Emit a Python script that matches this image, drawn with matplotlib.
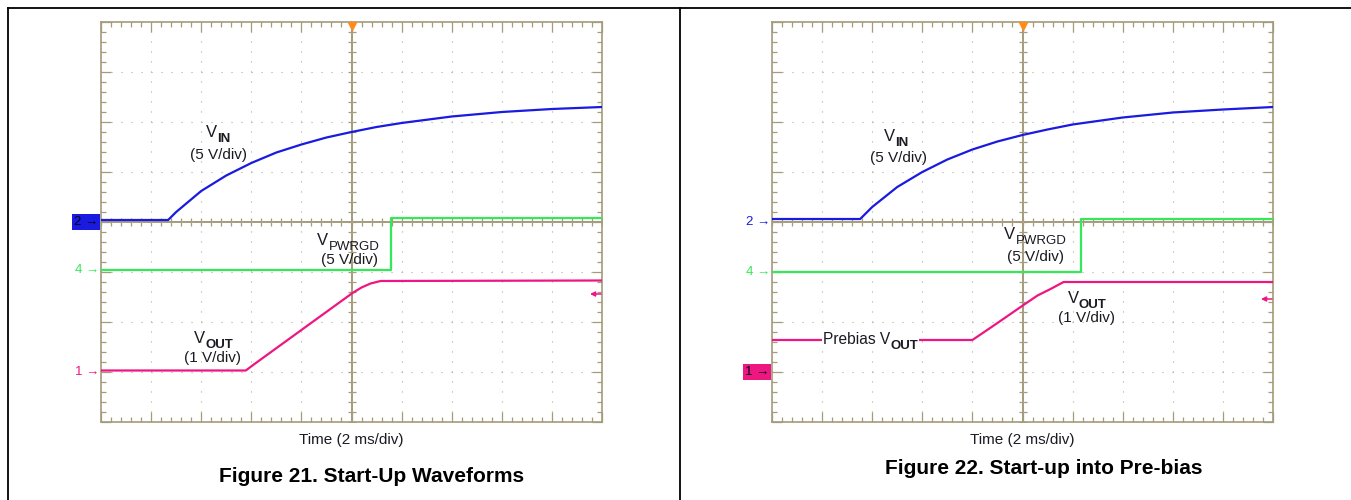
import numpy as np
import matplotlib
matplotlib.use('Agg')
import matplotlib.pyplot as plt
from matplotlib.lines import Line2D

plt.rcParams['font.family'] = ['Liberation Sans', 'DejaVu Sans']

# datos (divisiones, 0 en el centro)
# Figura 21
vin_x_21 = [0, 1.34, 1.5, 2.0, 2.5, 3.0, 3.5, 4.0, 4.5, 5.0, 5.5, 6.0, 7.0, 8.0, 9.0, 10.0]
vin_y_21 = [0.04, 0.04, 0.2, 0.62, 0.93, 1.18, 1.39, 1.55, 1.69, 1.80, 1.90, 1.98, 2.11, 2.20, 2.26, 2.30]
pg_x_21 = [0, 5.78, 5.78, 10.0]
pg_y_21 = [-0.96, -0.96, 0.08, 0.08]
vout_x_21 = [0, 2.89, 3.05, 4.0, 5.02, 5.2, 5.38, 5.58, 10.0]
vout_y_21 = [-2.97, -2.97, -2.85, -2.16, -1.42, -1.31, -1.23, -1.18, -1.17]

# Figura 22
vin_x_22 = [0, 1.76, 2.0, 2.5, 3.0, 3.5, 4.0, 4.5, 5.0, 5.5, 6.0, 7.0, 8.0, 9.0, 10.0]
vin_y_22 = [0.06, 0.06, 0.3, 0.7, 1.0, 1.25, 1.45, 1.61, 1.74, 1.85, 1.95, 2.09, 2.19, 2.25, 2.30]
pg_x_22 = [0, 6.16, 6.16, 10.0]
pg_y_22 = [-1.0, -1.0, 0.06, 0.06]
vout_x_22 = [0, 4.0, 4.5, 5.02, 5.3, 5.56, 5.82, 10.0]
vout_y_22 = [-2.36, -2.36, -2.02, -1.66, -1.47, -1.34, -1.2, -1.2]

BLUE = '#1a1ae0'
GREEN = '#35e85a'
PINK = '#ee1681'
GRID = '#a39b7a'
TXT = '#1a1a22'

fig = plt.figure(figsize=(13.51, 5), dpi=100)

# marco de la pagina
fig.add_artist(Line2D([8/1351, 1], [0.984, 0.984], color='k', lw=1.3))
fig.add_artist(Line2D([8/1351, 8/1351], [0, 0.984], color='k', lw=1.3))
fig.add_artist(Line2D([680/1351, 680/1351], [0, 0.984], color='k', lw=1.3))


def scope(left_px, ch_levels, boxed):
    ax = fig.add_axes([left_px/1351, 78/500, 501/1351, 400/500])
    ax.set_xlim(0, 10)
    ax.set_ylim(-4, 4)
    ax.set_xticks(np.arange(0, 11, 1))
    ax.set_yticks(np.arange(-4, 5, 1))
    ax.set_xticks(np.arange(0, 10.01, 0.2), minor=True)
    ax.set_yticks(np.arange(-4, 4.01, 0.2), minor=True)
    ax.tick_params(which='both', direction='in', top=True, right=True,
                   labelbottom=False, labelleft=False, color=GRID, width=0.9)
    ax.tick_params(which='major', length=7)
    ax.tick_params(which='minor', length=3.5)
    for s in ax.spines.values():
        s.set_color(GRID)
        s.set_linewidth(1.2)
    ax.grid(which='major', color='#b3ab92', lw=0.8, ls=(0, (1, 8)))
    ax.axhline(0, color=GRID, lw=1.4, zorder=1)
    ax.axvline(5, color=GRID, lw=1.4, zorder=1)
    mx = np.arange(0, 10.01, 0.2)
    my = np.arange(-4, 4.01, 0.2)
    ax.plot(mx, np.zeros_like(mx), ls='', marker='|', ms=5.5, mew=0.9, color=GRID, zorder=1)
    ax.plot(np.full_like(my, 5.0), my, ls='', marker='_', ms=5.5, mew=0.9, color=GRID, zorder=1)
    # disparo
    ax.plot([5], [3.93], marker='v', ms=6, color='#ff8c1a', clip_on=False, zorder=5)
    # marcadores de canal
    for ch, lvl, col in zip(['2', '4', '1'], ch_levels, [BLUE, GREEN, PINK]):
        if ch == boxed:
            ax.annotate(ch + ' \u2192', xy=(0, lvl), xycoords=('axes fraction', 'data'),
                        xytext=(-2, 0), textcoords='offset points', ha='right', va='center',
                        fontsize=9.5, color='#05051a',
                        bbox=dict(boxstyle='square,pad=0.15', fc=col, ec='none'))
        else:
            ax.annotate(ch + ' \u2192', xy=(0, lvl), xycoords=('axes fraction', 'data'),
                        xytext=(-1, 0), textcoords='offset points', ha='right', va='center',
                        fontsize=9.5, color=col)
    ax.text(5.0, -4.36, 'Time (2 ms/div)', ha='center', va='center', fontsize=11, color=TXT)
    return ax


def vlabel(ax, x, y, main, sub, bold=True, bg=False, size=12):
    kw = {}
    if bg:
        kw = dict(bbox=dict(boxstyle='square,pad=0.08', fc='white', ec='none'), zorder=4)
    ax.text(x, y, main, ha='right', va='baseline', fontsize=size, color=TXT, **kw)
    ax.text(x, y - 0.1, sub, ha='left', va='baseline', fontsize=9.5, color=TXT,
            fontweight='bold' if bold else 'normal', **kw)


def ref_arrow(ax, lvl):
    ax.annotate('', xy=(9.76, lvl), xytext=(9.98, lvl),
                arrowprops=dict(arrowstyle='-|>', color=PINK, lw=1.1, mutation_scale=7,
                                shrinkA=0, shrinkB=0))


# Figura 21
ax1 = scope(101, [0, -0.96, -3], '2')
ax1.plot(vin_x_21, vin_y_21, color=BLUE, lw=1.6, zorder=3)
ax1.plot(pg_x_21, pg_y_21, color=GREEN, lw=1.6, zorder=3)
ax1.plot(vout_x_21, vout_y_21, color=PINK, lw=1.6, zorder=3)
ref_arrow(ax1, -1.44)
vlabel(ax1, 2.32, 1.70, 'V', 'IN')
ax1.text(2.34, 1.34, '(5 V/div)', ha='center', va='center', fontsize=11, color=TXT)
vlabel(ax1, 4.54, -0.46, 'V', 'PWRGD', bold=False)
ax1.text(4.96, -0.76, '(5 V/div)', ha='center', va='center', fontsize=11, color=TXT)
vlabel(ax1, 2.08, -2.42, 'V', 'OUT')
ax1.text(2.22, -2.72, '(1 V/div)', ha='center', va='center', fontsize=11, color=TXT)
fig.text(372/1351, 1 - 476/500, 'Figure 21. Start-Up Waveforms', ha='center', va='center',
         fontsize=15, fontweight='bold', color='k')

# Figura 22
ax2 = scope(772, [0, -1.0, -3], '1')
ax2.plot(vin_x_22, vin_y_22, color=BLUE, lw=1.6, zorder=3)
ax2.plot(pg_x_22, pg_y_22, color=GREEN, lw=1.6, zorder=3)
ax2.plot(vout_x_22, vout_y_22, color=PINK, lw=1.6, zorder=3)
ref_arrow(ax2, -1.54)
vlabel(ax2, 2.46, 1.63, 'V', 'IN')
ax2.text(2.52, 1.28, '(5 V/div)', ha='center', va='center', fontsize=11, color=TXT)
vlabel(ax2, 4.86, -0.33, 'V', 'PWRGD', bold=False)
ax2.text(5.26, -0.70, '(5 V/div)', ha='center', va='center', fontsize=11, color=TXT)
vlabel(ax2, 6.12, -1.61, 'V', 'OUT')
ax2.text(6.28, -1.92, '(1 V/div)', ha='center', va='center', fontsize=11, color=TXT)
vlabel(ax2, 2.36, -2.43, 'Prebias V', 'OUT', bg=True, size=11.2)
fig.text(1044/1351, 1 - 469/500, 'Figure 22. Start-up into Pre-bias', ha='center', va='center',
         fontsize=15, fontweight='bold', color='k')

plt.savefig('out.png', dpi=100)
